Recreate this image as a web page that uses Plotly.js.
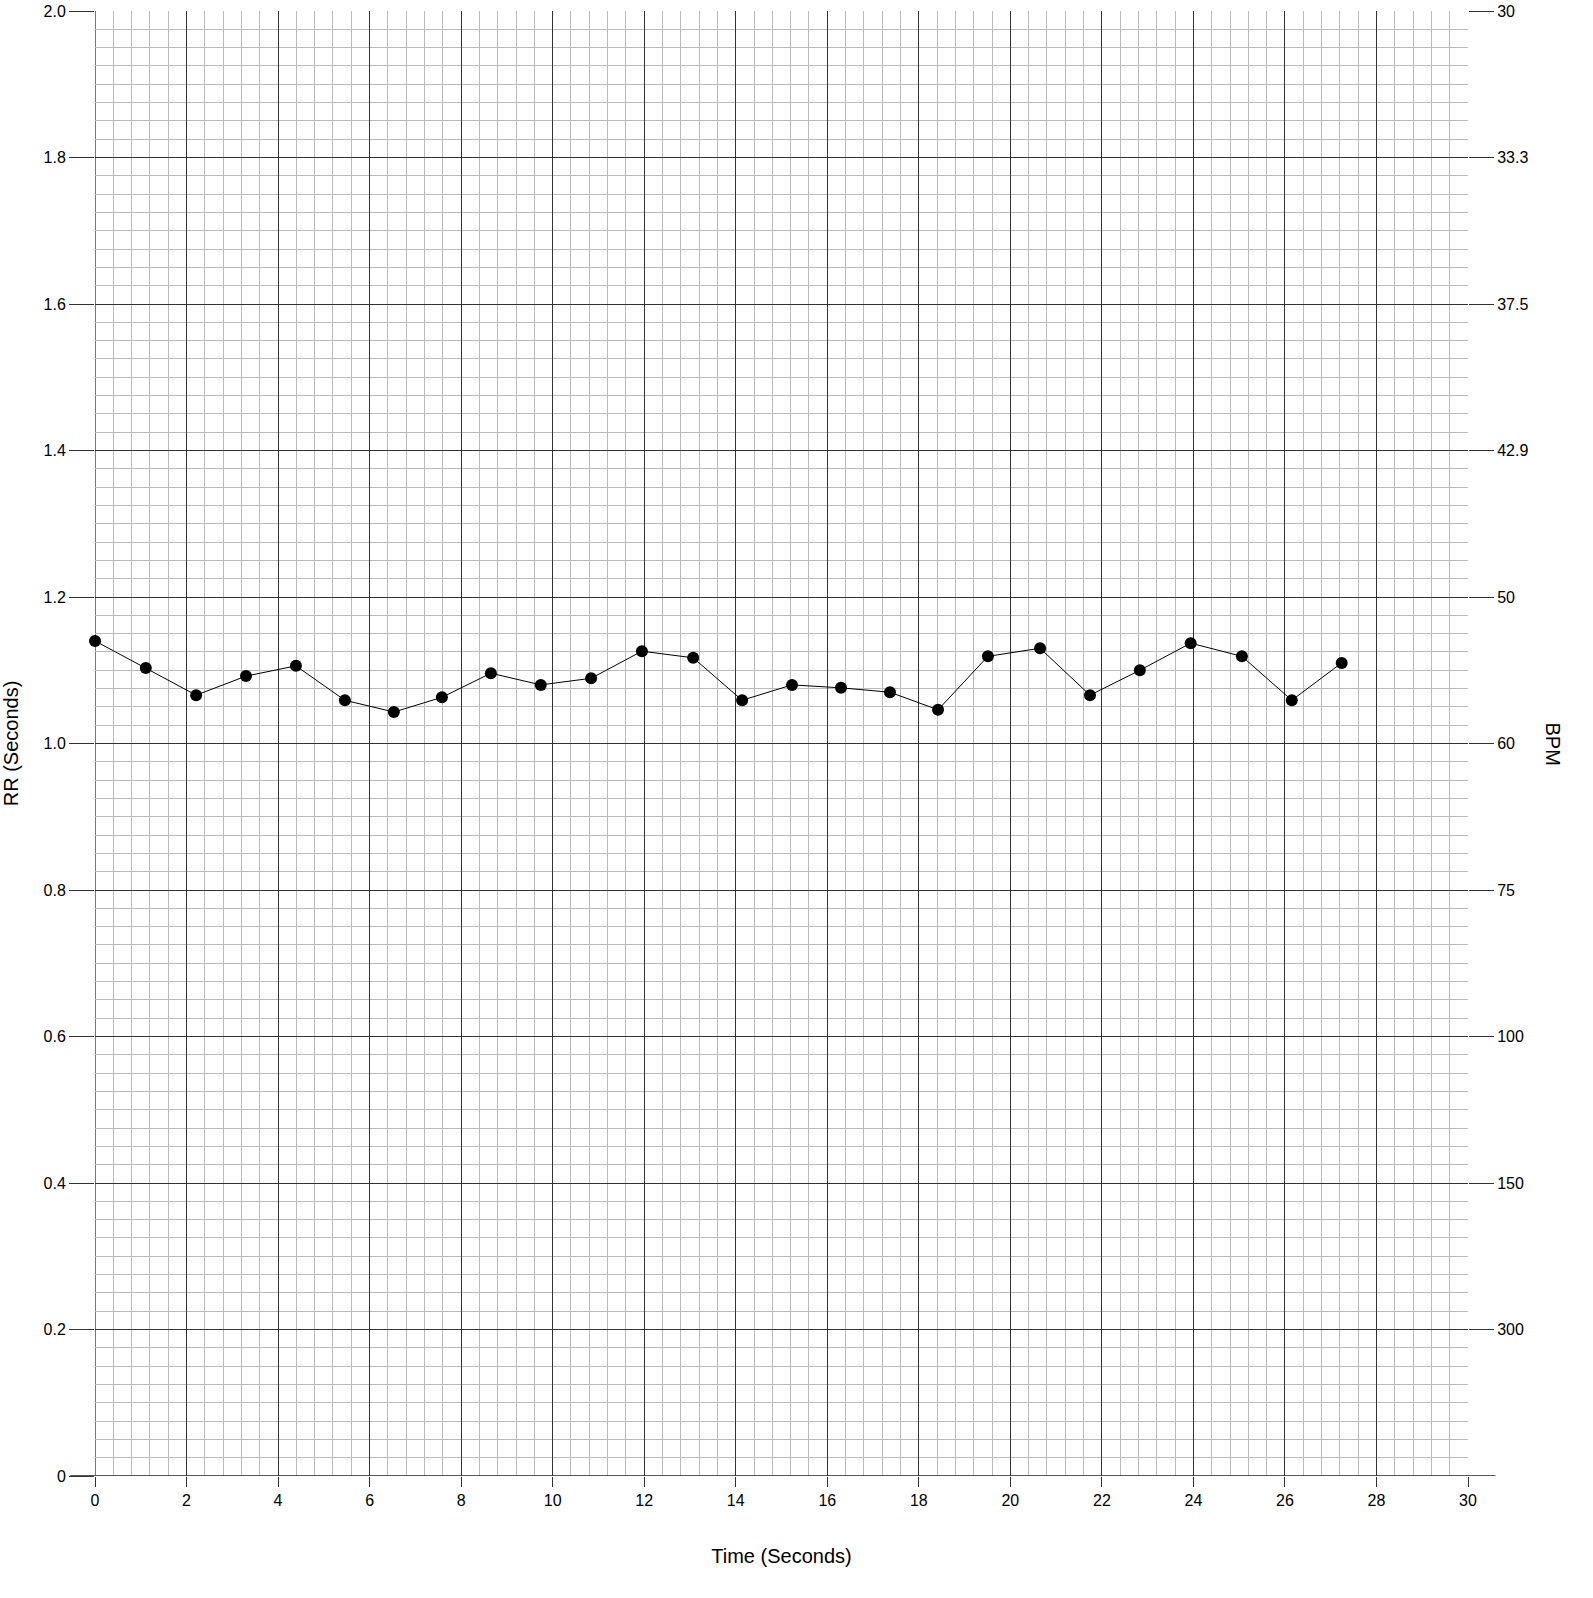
<!DOCTYPE html>
<html>
<head>
<script src="https://cdn.plot.ly/plotly-3.0.1.min.js"></script>
<style>body{margin:0;background:#fff}</style>
</head>
<body>
<div id="plot1" style="width:1593px;height:1598px"></div>
<script>
// beat times (s) and RR intervals (s)
var timeSec = [0, 1.11, 2.21, 3.30, 4.39, 5.46, 6.53, 7.58, 8.65, 9.74, 10.84, 11.95, 13.07,
  14.14, 15.23, 16.30, 17.37, 18.42, 19.51, 20.65, 21.74, 22.83, 23.94, 25.06, 26.15, 27.24];
var rrSec = [1.140, 1.103, 1.066, 1.092, 1.106, 1.059, 1.043, 1.063, 1.096, 1.080, 1.089, 1.126, 1.117,
  1.059, 1.080, 1.076, 1.070, 1.046, 1.119, 1.130, 1.066, 1.100, 1.137, 1.119, 1.059, 1.110];
var rrTicks = [0, 0.2, 0.4, 0.6, 0.8, 1.0, 1.2, 1.4, 1.6, 1.8, 2.0];
var rrTickText = ['0', '0.2', '0.4', '0.6', '0.8', '1.0', '1.2', '1.4', '1.6', '1.8', '2.0'];
var bpmTicks = [0.2, 0.4, 0.6, 0.8, 1.0, 1.2, 1.4, 1.6, 1.8, 2.0];
var bpmText = ['300', '150', '100', '75', '60', '50', '42.9', '37.5', '33.3', '30'];

var fam = 'Liberation Sans, Arial, sans-serif';
var font = {family: fam, size: 16, color: '#000'};

var trace = {
  x: timeSec, y: rrSec, type: 'scatter', mode: 'lines+markers',
  line: {color: '#000', width: 1},
  marker: {color: '#000', size: 12},
  cliponaxis: false,
  hoverinfo: 'x+y'
};
var dummy = {x: [0], y: [0], yaxis: 'y2', mode: 'markers', marker: {opacity: 0}, hoverinfo: 'skip'};

var layout = {
  width: 1593, height: 1598,
  margin: {l: 95, r: 125, t: 11, b: 122},
  showlegend: false,
  paper_bgcolor: '#fff', plot_bgcolor: '#fff',
  font: font,
  xaxis: {
    range: [0, 30], dtick: 2, tick0: 0,
    showgrid: true, gridcolor: '#333', gridwidth: 1,
    zeroline: false, showline: false,
    ticks: 'outside', ticklen: 10, tickcolor: '#333',
    minor: {dtick: 0.4, tick0: 0, showgrid: true, gridcolor: '#bbb', gridwidth: 1},
    title: {text: 'Time (Seconds)', font: {size: 20}, standoff: 40}
  },
  yaxis: {
    range: [0, 2], tickvals: rrTicks, ticktext: rrTickText,
    showgrid: true, gridcolor: '#333', gridwidth: 1,
    zeroline: false, showline: false,
    ticks: 'outside', ticklen: 25, tickcolor: '#333',
    minor: {dtick: 0.025, tick0: 0, showgrid: true, gridcolor: '#bbb', gridwidth: 1},
    title: {text: 'RR (Seconds)', font: {size: 20}, standoff: 22}
  },
  yaxis2: {
    range: [0, 2], overlaying: 'y', side: 'right',
    tickvals: bpmTicks, ticktext: bpmText,
    showgrid: false, zeroline: false,
    ticks: 'outside', ticklen: 25, tickcolor: '#333'
  },
  annotations: [{
    text: 'BPM', textangle: 90, xref: 'paper', yref: 'paper',
    x: 1, y: 0.5, xanchor: 'left', yanchor: 'middle', xshift: 72,
    showarrow: false, font: {family: fam, size: 20, color: '#000'}
  }],
  shapes: [
    // x=0 line is lighter and the baseline runs past both sides
    {type: 'line', xref: 'x', yref: 'paper', x0: 0, x1: 0, y0: 0, y1: 1, line: {color: '#777', width: 2}, layer: 'below'},
    {type: 'line', xref: 'paper', yref: 'y', x0: -0.018, x1: 1.02, y0: 0, y1: 0, line: {color: '#222', width: 1.5}}
  ]
};

Plotly.newPlot('plot1', [trace, dummy], layout, {displayModeBar: false});
</script>
</body>
</html>
